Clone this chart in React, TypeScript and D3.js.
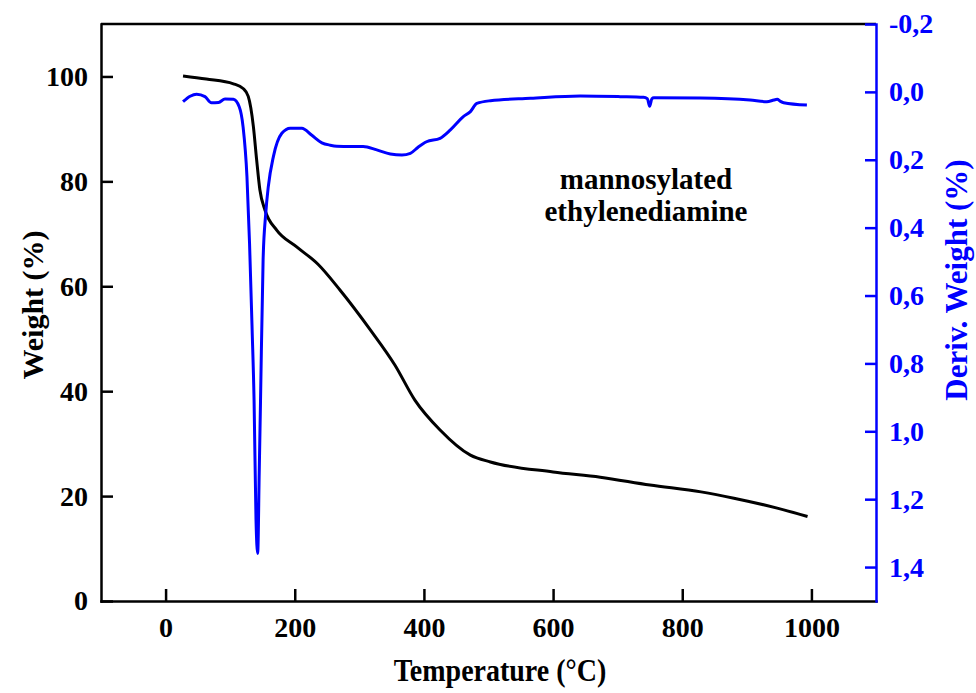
import React, { useEffect, useRef } from 'react';
import * as d3 from 'd3';

// TGA curve (weight %)
const tgaTemp = [27, 63, 105, 120, 128, 136, 141, 146, 154, 172, 203, 236, 270, 317, 355, 386, 425, 472, 503, 600, 673, 750, 829, 880, 947, 994];
const tgaWeight = [100.1, 99.5, 98.6, 97.7, 96.2, 90.4, 84.1, 78.4, 74.5, 70.7, 67.5, 64.2, 59.3, 51.7, 45, 38.3, 32.6, 27.8, 26.5, 24.6, 23.6, 22.1, 20.8, 19.6, 17.7, 16.1];

// DTG curve (deriv. weight %)
const dtgTemp = [27, 38, 48, 61, 71, 82, 92, 105, 114, 120, 126, 130, 134, 137, 140, 142.6, 145, 147, 151, 155, 159, 167, 180, 193, 211, 226, 242, 255, 265, 286, 306, 327, 348, 366, 379, 391, 404, 425, 441, 461, 472, 482, 503, 565, 642, 704, 740, 746, 749.5, 753, 756, 828, 905, 931, 942, 947, 952, 957, 993];
const dtgDeriv = [0.029, 0.013, 0.007, 0.014, 0.032, 0.031, 0.021, 0.022, 0.044, 0.103, 0.25, 0.446, 0.7, 0.908, 1.26, 1.36, 1.12, 0.91, 0.495, 0.36, 0.28, 0.19, 0.122, 0.107, 0.107, 0.127, 0.15, 0.157, 0.16, 0.161, 0.161, 0.171, 0.183, 0.186, 0.181, 0.163, 0.147, 0.137, 0.112, 0.073, 0.058, 0.034, 0.026, 0.019, 0.012, 0.014, 0.016, 0.02, 0.042, 0.02, 0.017, 0.018, 0.024, 0.029, 0.024, 0.022, 0.028, 0.032, 0.039];

const xTicks = [0, 200, 400, 600, 800, 1000];
const weightTicks = [0, 20, 40, 60, 80, 100];
const derivTicks = [-0.2, 0, 0.2, 0.4, 0.6, 0.8, 1.0, 1.2, 1.4];
const noteLines = ['mannosylated', 'ethylenediamine'];

const W = 976;
const H = 693;
const BLUE = '#0000ff';
const FONT = '"Liberation Serif", "Times New Roman", serif';

function App() {
  const ref = useRef<SVGSVGElement>(null);

  useEffect(() => {
    drawChart();
  }, []);

  function drawChart() {
    const svg = d3.select(ref.current);
    svg.selectAll('*').remove();

    const left = 101, right = 876, top = 24, bottom = 601;

    const x = d3.scaleLinear().domain([-100, 1100]).range([left, right]);
    const yW = d3.scaleLinear().domain([0, 110]).range([bottom, top]);
    const yD = d3.scaleLinear().domain([-0.2, 1.5]).range([top, bottom]);

    const g = svg.append('g').style('font-family', FONT).style('font-weight', 'bold');

    // top frame line
    g.append('line')
      .attr('x1', left).attr('x2', right)
      .attr('y1', top).attr('y2', top)
      .attr('stroke', '#000').attr('stroke-width', 2.5);

    const xAxis = g.append('g')
      .attr('transform', `translate(0,${bottom})`)
      .call(d3.axisBottom(x).tickValues(xTicks).tickSizeInner(-12).tickSizeOuter(0).tickPadding(16).tickFormat(d3.format('d')));

    const leftAxis = g.append('g')
      .attr('transform', `translate(${left},0)`)
      .call(d3.axisLeft(yW).tickValues(weightTicks).tickSizeInner(-12).tickSizeOuter(0).tickPadding(13).tickFormat(d3.format('d')));

    const rightAxis = g.append('g')
      .attr('transform', `translate(${right},0)`)
      .call(d3.axisRight(yD).tickValues(derivTicks).tickSizeInner(-11).tickSizeOuter(0).tickPadding(13)
        .tickFormat(d => d3.format('.1f')(d as number).replace('.', ',').replace('−', '-')));

    [xAxis, leftAxis].forEach(a => {
      a.selectAll('path, line').attr('stroke', '#000').attr('stroke-width', 2.5);
      a.selectAll('text').attr('fill', '#000').style('font-size', '28px').style('font-family', FONT);
    });
    rightAxis.selectAll('path, line').attr('stroke', BLUE).attr('stroke-width', 2.5);
    rightAxis.selectAll('text').attr('fill', BLUE).style('font-size', '28px').style('font-family', FONT);
    svg.selectAll('.domain').attr('stroke-linecap', 'square');

    // curves
    const tga = tgaTemp.map((t, i) => [t, tgaWeight[i]] as [number, number]);
    const dtg = dtgTemp.map((t, i) => [t, dtgDeriv[i]] as [number, number]);

    g.append('path')
      .datum(tga)
      .attr('fill', 'none')
      .attr('stroke', '#000')
      .attr('stroke-width', 3)
      .attr('d', d3.line<[number, number]>().x(d => x(d[0])).y(d => yW(d[1])).curve(d3.curveMonotoneX));

    g.append('path')
      .datum(dtg)
      .attr('fill', 'none')
      .attr('stroke', BLUE)
      .attr('stroke-width', 3)
      .attr('d', d3.line<[number, number]>().x(d => x(d[0])).y(d => yD(d[1])).curve(d3.curveMonotoneX));

    // axis titles
    g.append('text')
      .attr('transform', 'translate(500,681) scale(1,1.1)')
      .attr('text-anchor', 'middle')
      .style('font-size', '28px')
      .text('Temperature (°C)');

    g.append('text')
      .attr('transform', 'translate(43,305) rotate(-90)')
      .attr('text-anchor', 'middle')
      .style('font-size', '30px')
      .text('Weight (%)');

    g.append('text')
      .attr('transform', 'translate(967,280) rotate(-90)')
      .attr('text-anchor', 'middle')
      .attr('fill', BLUE)
      .style('font-size', '31px')
      .text('Deriv. Weight (%)');

    // annotation
    g.selectAll('.note')
      .data(noteLines)
      .join('text')
      .attr('class', 'note')
      .attr('x', 646)
      .attr('y', (_, i) => 189 + i * 32)
      .attr('text-anchor', 'middle')
      .style('font-size', '29px')
      .text(d => d);
  }

  return (
    <svg
      ref={ref}
      width={W}
      height={H}
      style={{ position: 'absolute', left: 0, top: 0, background: '#fff' }}
    />
  );
}

export default App;
